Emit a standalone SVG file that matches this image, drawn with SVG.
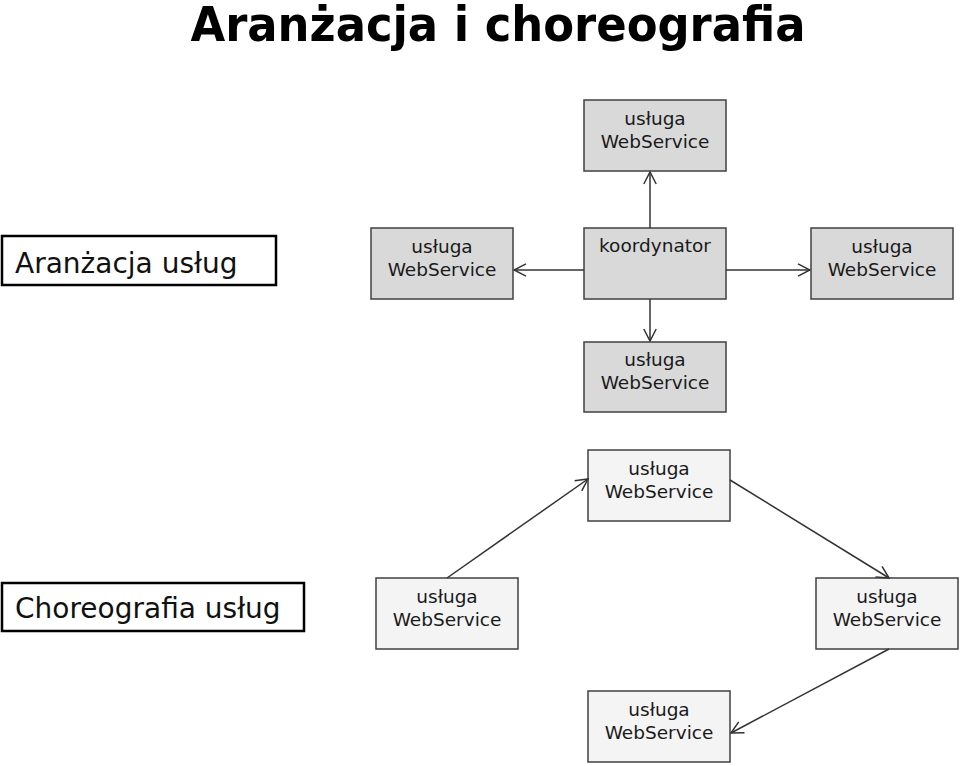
<svg xmlns="http://www.w3.org/2000/svg" width="960" height="766" viewBox="0 0 960 766">
<defs>
<style>
.t{font-family:"DejaVu Sans","Verdana",sans-serif;font-size:18.5px;fill:#1a1a1a;text-anchor:middle}
.g{fill:#d9d9d9;stroke:#404040;stroke-width:1.5}
.l{fill:#f4f4f4;stroke:#404040;stroke-width:1.5}
.lab{fill:#fff;stroke:#000;stroke-width:2.5}
.lt{font-family:"DejaVu Sans","Verdana",sans-serif;font-size:28px;fill:#111}
.c{stroke:#333;stroke-width:1.5;fill:none;marker-end:url(#a)}
</style>
<marker id="a" viewBox="0 0 14 14" refX="13" refY="7" markerWidth="14" markerHeight="14" markerUnits="userSpaceOnUse" orient="auto">
<path d="M1,0.8 L13,7 L1,13.2" fill="none" stroke="#333" stroke-width="1.5"/>
</marker>
</defs>
<rect width="960" height="766" fill="#fff"/>
<text x="498" y="41" font-family="'DejaVu Sans Condensed','DejaVu Sans',sans-serif" font-weight="bold" font-size="48" text-anchor="middle" fill="#000" textLength="615" lengthAdjust="spacingAndGlyphs">Aranżacja i choreografia</text>

<g id="label-aranzacja"><rect class="lab" x="2" y="236" width="274" height="49"/><text class="lt" x="15" y="273">Aranżacja usług</text></g>
<g id="ws-top"><rect class="g" x="584" y="100" width="142" height="71"/><text class="t" x="655" y="125">usługa</text><text class="t" x="655" y="148">WebService</text></g>
<g id="ws-left"><rect class="g" x="371" y="228" width="142" height="71"/><text class="t" x="442" y="253">usługa</text><text class="t" x="442" y="276">WebService</text></g>
<g id="koordynator"><rect class="g" x="584" y="228" width="142" height="71"/><text class="t" x="655" y="252">koordynator</text></g>
<g id="ws-right"><rect class="g" x="811" y="228" width="142" height="71"/><text class="t" x="882" y="253">usługa</text><text class="t" x="882" y="276">WebService</text></g>
<g id="ws-bottom"><rect class="g" x="584" y="342" width="142" height="70"/><text class="t" x="655" y="366">usługa</text><text class="t" x="655" y="389">WebService</text></g>

<g id="label-choreografia"><rect class="lab" x="2" y="583" width="302" height="48"/><text class="lt" x="15" y="618">Choreografia usług</text></g>
<g id="ch-top"><rect class="l" x="588" y="450" width="142" height="71"/><text class="t" x="659" y="475">usługa</text><text class="t" x="659" y="498">WebService</text></g>
<g id="ch-left"><rect class="l" x="376" y="578" width="142" height="71"/><text class="t" x="447" y="603">usługa</text><text class="t" x="447" y="626">WebService</text></g>
<g id="ch-right"><rect class="l" x="816" y="578" width="142" height="71"/><text class="t" x="887" y="603">usługa</text><text class="t" x="887" y="626">WebService</text></g>
<g id="ch-bottom"><rect class="l" x="588" y="691" width="142" height="71"/><text class="t" x="659" y="716">usługa</text><text class="t" x="659" y="739">WebService</text></g>

<g id="connectors">
<line class="c" x1="650" y1="228" x2="650" y2="172"/>
<line class="c" x1="584" y1="270" x2="514" y2="270"/>
<line class="c" x1="726" y1="270" x2="810" y2="270"/>
<line class="c" x1="650" y1="299" x2="650" y2="341"/>
<line class="c" x1="447" y1="578" x2="588" y2="479"/>
<line class="c" x1="730" y1="480" x2="889" y2="578"/>
<line class="c" x1="889" y1="649" x2="731" y2="733"/>
</g>
</svg>
